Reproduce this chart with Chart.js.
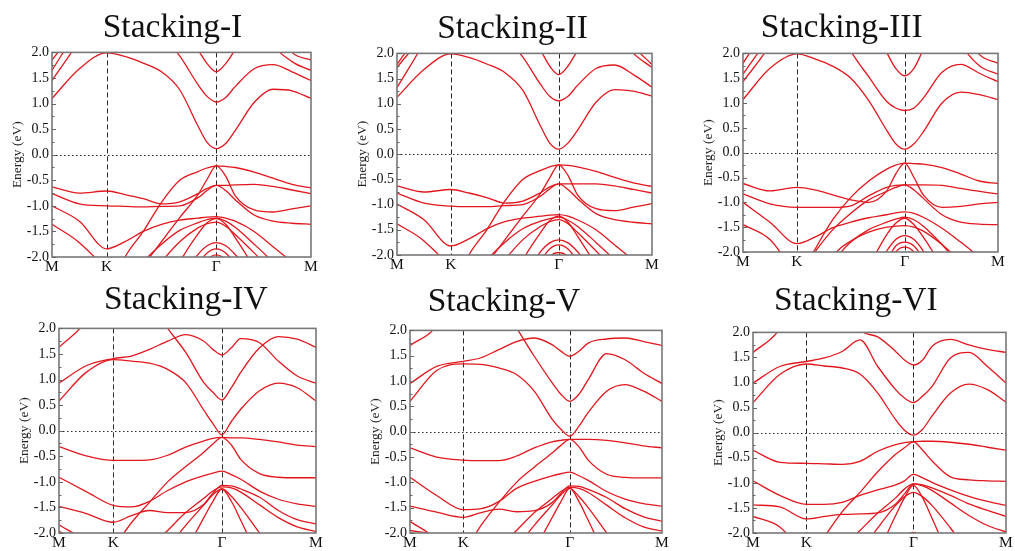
<!DOCTYPE html>
<html><head><meta charset="utf-8">
<script src="https://cdn.jsdelivr.net/npm/chart.js@4.4.1/dist/chart.umd.min.js"></script>
<style>
html,body{margin:0;padding:0;background:#fff;width:1015px;height:551px;overflow:hidden;position:relative;font-family:'Liberation Serif','Times New Roman',serif;}
.ttl{position:absolute;font-size:33.5px;line-height:1;white-space:nowrap;color:#111;transform:translateX(-50%);}
.box{position:absolute;}
</style></head><body>
<script>
// ---- data ----
const kPath = [0, 0.289, 0.577, 0.770, 0.962, 1.155, 1.347, 1.540, 1.636, 1.732, 1.832, 1.932, 2.132, 2.332, 2.532, 2.732];
const kTickPos = [0, 0.577, 1.732, 2.732];
const kTickLabels = ['M', 'K', 'Γ', 'M'];
const energyMin = -2, energyMax = 2, energyStep = 0.5;
const panelTitles = ['Stacking-I', 'Stacking-II', 'Stacking-III', 'Stacking-IV', 'Stacking-V', 'Stacking-VI'];

const bandsStackingI = [
  [1.10, 1.68, 1.99, 1.92, 1.79, 1.62, 1.27, 0.56, 0.24, 0.12, 0.22, 0.47, 1.02, 1.28, 1.25, 1.10],
  [2.6, 2.6, 2.6, 2.6, 2.6, 2.35, 1.93, 1.37, 1.14, 1.03, 1.12, 1.33, 1.68, 1.76, 1.62, 1.45],
  [2.6, 2.6, 2.6, 2.6, 2.6, 2.6, 2.5, 2.05, 1.78, 1.62, 1.78, 2.05, 2.6, 2.6, 2.6, 2.6],
  [1.45, 2.25, 3.3, 3.3, 3.3, 3.3, 3.3, 3.3, 3.3, 3.3, 3.3, 3.3, 3.3, 3.3, 3.3, 3.3],
  [1.65, 2.5, 3.3, 3.3, 3.3, 3.3, 3.3, 3.3, 3.3, 3.3, 3.3, 3.3, 3.3, 3.3, 3.3, 3.3],
  [1.85, 2.55, 3.3, 3.3, 3.3, 3.3, 3.3, 3.3, 3.3, 3.3, 3.3, 3.3, 3.3, 3.3, 3.3, 3.3],
  [3.3, 3.3, 3.3, 3.3, 3.3, 3.3, 3.3, 3.3, 3.3, 3.3, 3.3, 3.3, 3.3, 2.2, 1.82, 1.65],
  [3.3, 3.3, 3.3, 3.3, 3.3, 3.3, 3.3, 3.3, 3.3, 3.3, 3.3, 3.3, 3.3, 2.6, 2.0, 1.85],
  [-3, -3, -2.8, -2.0, -1.5, -0.93, -0.50, -0.33, -0.26, -0.22, -0.23, -0.25, -0.34, -0.46, -0.58, -0.65],
  [-3, -3, -3, -2.9, -2.2, -1.70, -1.23, -0.78, -0.48, -0.22, -0.42, -0.80, -1.08, -1.12, -1.06, -1.00],
  [-0.63, -0.75, -0.71, -0.78, -0.86, -0.96, -0.92, -0.76, -0.66, -0.60, -0.60, -0.59, -0.58, -0.62, -0.69, -0.76],
  [-0.76, -0.96, -1.00, -1.01, -1.02, -1.01, -1.00, -0.84, -0.70, -0.60, -0.70, -0.88, -1.18, -1.30, -1.34, -1.36],
  [-1.00, -1.30, -1.84, -1.70, -1.50, -1.36, -1.28, -1.24, -1.22, -1.21, -1.24, -1.30, -1.50, -1.80, -2.10, -2.40],
  [-3, -3, -3, -2.6, -2.1, -1.75, -1.48, -1.33, -1.27, -1.24, -1.30, -1.42, -1.75, -2.10, -2.50, -2.80],
  [-3, -3, -3, -3, -2.6, -2.1, -1.70, -1.43, -1.35, -1.32, -1.40, -1.56, -1.92, -2.30, -2.80, -3],
  [-3, -3, -3, -3, -3, -2.8, -2.1, -1.55, -1.33, -1.25, -1.36, -1.62, -2.20, -2.80, -3, -3],
  [-3, -3, -3, -3, -3, -3, -2.5, -1.95, -1.78, -1.72, -1.78, -1.95, -2.40, -3, -3, -3],
  [-3, -3, -3, -3, -3, -3, -2.8, -2.15, -1.92, -1.84, -1.92, -2.15, -2.70, -3, -3, -3],
  [-3, -3, -3, -3, -3, -3, -3, -2.30, -2.05, -1.96, -2.05, -2.30, -3, -3, -3, -3],
  [-1.36, -1.72, -2.3, -3, -3, -3, -3, -3, -3, -3, -3, -3, -3, -3, -3, -3]
];
const bandsStackingII = [
  [1.13, 1.68, 1.99, 1.92, 1.79, 1.62, 1.27, 0.55, 0.22, 0.10, 0.22, 0.47, 1.03, 1.28, 1.25, 1.15],
  [2.6, 2.6, 2.6, 2.6, 2.6, 2.35, 1.93, 1.38, 1.15, 1.06, 1.15, 1.36, 1.70, 1.77, 1.58, 1.33],
  [2.6, 2.6, 2.6, 2.6, 2.6, 2.6, 2.5, 2.05, 1.75, 1.58, 1.75, 2.05, 2.6, 2.6, 2.6, 2.6],
  [1.32, 2.22, 3.3, 3.3, 3.3, 3.3, 3.3, 3.3, 3.3, 3.3, 3.3, 3.3, 3.3, 3.3, 3.3, 3.3],
  [1.72, 2.4, 3.3, 3.3, 3.3, 3.3, 3.3, 3.3, 3.3, 3.3, 3.3, 3.3, 3.3, 3.3, 3.3, 3.3],
  [1.78, 2.55, 3.3, 3.3, 3.3, 3.3, 3.3, 3.3, 3.3, 3.3, 3.3, 3.3, 3.3, 3.3, 3.3, 3.3],
  [3.3, 3.3, 3.3, 3.3, 3.3, 3.3, 3.3, 3.3, 3.3, 3.3, 3.3, 3.3, 3.3, 2.45, 2.0, 1.72],
  [3.3, 3.3, 3.3, 3.3, 3.3, 3.3, 3.3, 3.3, 3.3, 3.3, 3.3, 3.3, 3.3, 2.7, 2.15, 1.78],
  [-3, -3, -2.8, -2.0, -1.5, -0.93, -0.50, -0.32, -0.25, -0.21, -0.22, -0.25, -0.34, -0.46, -0.57, -0.64],
  [-3, -3, -3, -2.9, -2.2, -1.70, -1.23, -0.77, -0.47, -0.21, -0.42, -0.80, -1.08, -1.12, -1.05, -0.98],
  [-0.63, -0.75, -0.70, -0.77, -0.86, -0.97, -0.93, -0.76, -0.65, -0.59, -0.59, -0.59, -0.59, -0.63, -0.70, -0.77],
  [-0.77, -0.97, -1.03, -1.04, -1.04, -1.02, -1.00, -0.83, -0.69, -0.59, -0.70, -0.88, -1.18, -1.30, -1.35, -1.38],
  [-0.99, -1.30, -1.82, -1.68, -1.48, -1.34, -1.27, -1.23, -1.21, -1.20, -1.23, -1.30, -1.50, -1.80, -2.10, -2.40],
  [-3, -3, -3, -2.6, -2.1, -1.75, -1.48, -1.33, -1.28, -1.25, -1.31, -1.43, -1.75, -2.10, -2.50, -2.80],
  [-3, -3, -3, -3, -2.6, -2.1, -1.70, -1.43, -1.34, -1.30, -1.38, -1.55, -1.92, -2.30, -2.80, -3],
  [-3, -3, -3, -3, -3, -2.8, -2.1, -1.55, -1.32, -1.23, -1.35, -1.62, -2.20, -2.80, -3, -3],
  [-3, -3, -3, -3, -3, -3, -2.5, -1.93, -1.76, -1.70, -1.76, -1.93, -2.40, -3, -3, -3],
  [-3, -3, -3, -3, -3, -3, -2.8, -2.12, -1.88, -1.80, -1.88, -2.12, -2.70, -3, -3, -3],
  [-3, -3, -3, -3, -3, -3, -3, -2.30, -2.03, -1.95, -2.03, -2.30, -3, -3, -3, -3],
  [-1.38, -1.72, -2.3, -3, -3, -3, -3, -3, -3, -3, -3, -3, -3, -3, -3, -3]
];
const bandsStackingIII = [
  [1.07, 1.70, 1.99, 1.89, 1.74, 1.50, 1.05, 0.45, 0.18, 0.07, 0.18, 0.42, 1.00, 1.22, 1.17, 1.07],
  [3, 3, 3, 3, 2.8, 2.05, 1.53, 1.03, 0.90, 0.85, 0.90, 1.10, 1.62, 1.78, 1.60, 1.43],
  [3, 3, 3, 3, 3, 3, 2.8, 2.02, 1.70, 1.55, 1.70, 2.08, 2.8, 3, 3, 3],
  [1.43, 2.18, 3.3, 3.3, 3.3, 3.3, 3.3, 3.3, 3.3, 3.3, 3.3, 3.3, 3.3, 3.3, 3.3, 3.3],
  [1.58, 2.37, 3.3, 3.3, 3.3, 3.3, 3.3, 3.3, 3.3, 3.3, 3.3, 3.3, 3.3, 3.3, 3.3, 3.3],
  [1.80, 2.65, 3.5, 3.5, 3.5, 3.5, 3.5, 3.5, 3.5, 3.5, 3.5, 3.5, 3.5, 3.5, 3.5, 3.5],
  [3, 3, 3, 3, 3, 3, 3, 3, 3, 3, 3, 3, 3, 2.2, 1.75, 1.58],
  [3, 3, 3, 3, 3, 3, 3, 3, 3, 3, 3, 3, 3, 2.6, 1.98, 1.80],
  [-3, -3, -2.6, -1.95, -1.35, -0.90, -0.57, -0.33, -0.25, -0.21, -0.22, -0.23, -0.30, -0.43, -0.57, -0.62],
  [-0.62, -0.77, -0.70, -0.75, -0.85, -0.95, -1.00, -0.77, -0.43, -0.21, -0.50, -0.85, -1.10, -1.08, -1.03, -1.00],
  [-0.83, -1.03, -1.10, -1.10, -1.10, -1.07, -0.87, -0.70, -0.66, -0.65, -0.65, -0.65, -0.66, -0.72, -0.78, -0.83],
  [-3, -3, -2.5, -2.0, -1.55, -1.22, -0.95, -0.78, -0.70, -0.65, -0.75, -0.92, -1.25, -1.40, -1.44, -1.45],
  [-1.00, -1.40, -1.83, -1.70, -1.51, -1.40, -1.31, -1.25, -1.21, -1.19, -1.22, -1.30, -1.52, -1.80, -2.10, -2.40],
  [-3, -3, -3, -2.7, -2.2, -1.8, -1.55, -1.40, -1.34, -1.30, -1.35, -1.48, -1.85, -2.3, -2.8, -3],
  [-3, -3, -3, -3, -2.1, -1.78, -1.60, -1.50, -1.48, -1.47, -1.50, -1.58, -1.85, -2.2, -2.6, -3],
  [-3, -3, -3, -3, -3, -3, -2.3, -1.65, -1.42, -1.32, -1.45, -1.70, -2.3, -3, -3, -3],
  [-3, -3, -3, -3, -3, -3, -2.6, -1.98, -1.75, -1.67, -1.75, -1.98, -2.6, -3, -3, -3],
  [-3, -3, -3, -3, -3, -3, -3, -2.2, -1.88, -1.80, -1.88, -2.15, -3, -3, -3, -3],
  [-3, -3, -3, -3, -3, -3, -3, -2.4, -2.0, -1.90, -2.0, -2.35, -3, -3, -3, -3],
  [-1.45, -1.75, -2.5, -3, -3, -3, -3, -3, -3, -3, -3, -3, -3, -3, -3, -3]
];
const bandsStackingIV = [
  [0.58, 1.14, 1.39, 1.36, 1.32, 1.20, 0.94, 0.40, 0.14, -0.08, 0.18, 0.42, 0.78, 0.93, 0.84, 0.58],
  [0.93, 1.27, 1.41, 1.46, 1.59, 1.75, 1.88, 1.75, 1.59, 1.48, 1.62, 1.80, 1.72, 1.36, 1.07, 0.93],
  [3, 3, 3, 3, 2.5, 2.0, 1.53, 0.94, 0.75, 0.60, 0.84, 1.14, 1.62, 1.84, 1.79, 1.63],
  [1.63, 2.15, 3.2, 3.2, 3.2, 3.2, 3.2, 3.2, 3.2, 3.2, 3.2, 3.2, 3.2, 3.2, 3.2, 3.2],
  [-0.31, -0.49, -0.58, -0.58, -0.57, -0.48, -0.32, -0.20, -0.15, -0.13, -0.14, -0.14, -0.17, -0.22, -0.28, -0.31],
  [-3, -3, -2.3, -1.80, -1.40, -1.00, -0.70, -0.42, -0.26, -0.13, -0.28, -0.56, -0.84, -0.91, -0.92, -0.92],
  [-0.91, -1.19, -1.46, -1.49, -1.38, -1.17, -1.00, -0.88, -0.83, -0.79, -0.86, -0.95, -1.18, -1.34, -1.43, -1.48],
  [-1.48, -1.62, -1.79, -1.66, -1.56, -1.60, -1.60, -1.44, -1.22, -1.07, -1.08, -1.14, -1.30, -1.56, -1.74, -1.82],
  [-3, -3, -3, -2.8, -2.3, -1.95, -1.60, -1.32, -1.18, -1.10, -1.12, -1.20, -1.45, -1.70, -1.88, -1.97],
  [-3, -3, -3, -3, -2.8, -2.3, -1.85, -1.45, -1.25, -1.14, -1.28, -1.50, -2.0, -2.5, -3, -3],
  [-3, -3, -3, -3, -3, -3, -2.35, -1.70, -1.38, -1.14, -1.38, -1.75, -2.5, -3, -3, -3],
  [-1.84, -2.2, -3, -3, -3, -3, -3, -3, -3, -3, -3, -3, -3, -3, -3, -3],
  [-1.96, -2.3, -3, -3, -3, -3, -3, -3, -3, -3, -3, -3, -3, -3, -3, -3]
];
const bandsStackingV = [
  [0.60, 1.21, 1.34, 1.33, 1.26, 1.13, 0.80, 0.25, 0.05, -0.09, 0.11, 0.38, 0.80, 0.93, 0.80, 0.60],
  [0.95, 1.29, 1.39, 1.46, 1.62, 1.78, 1.85, 1.72, 1.59, 1.49, 1.59, 1.75, 1.83, 1.85, 1.78, 1.70],
  [3, 3, 3, 3, 2.6, 2.05, 1.49, 0.97, 0.74, 0.60, 0.74, 1.03, 1.54, 1.42, 1.16, 0.95],
  [1.70, 2.1, 3.2, 3.2, 3.2, 3.2, 3.2, 3.2, 3.2, 3.2, 3.2, 3.2, 3.2, 3.2, 3.2, 3.2],
  [-0.32, -0.50, -0.56, -0.57, -0.57, -0.48, -0.32, -0.20, -0.17, -0.15, -0.15, -0.15, -0.17, -0.22, -0.28, -0.32],
  [-3, -3, -2.4, -1.85, -1.40, -1.00, -0.70, -0.42, -0.27, -0.15, -0.30, -0.56, -0.84, -0.90, -0.91, -0.91],
  [-0.90, -1.26, -1.54, -1.52, -1.38, -1.12, -0.98, -0.87, -0.83, -0.80, -0.87, -0.96, -1.18, -1.33, -1.42, -1.47],
  [-1.47, -1.59, -1.69, -1.60, -1.53, -1.58, -1.56, -1.40, -1.22, -1.07, -1.08, -1.14, -1.30, -1.52, -1.68, -1.77],
  [-3, -3, -3, -2.8, -2.3, -1.95, -1.60, -1.32, -1.18, -1.10, -1.12, -1.20, -1.45, -1.70, -1.88, -1.96],
  [-3, -3, -3, -3, -2.8, -2.3, -1.85, -1.45, -1.25, -1.12, -1.28, -1.50, -2.0, -2.5, -3, -3],
  [-3, -3, -3, -3, -3, -3, -2.35, -1.70, -1.38, -1.12, -1.38, -1.75, -2.5, -3, -3, -3],
  [-1.77, -2.15, -3, -3, -3, -3, -3, -3, -3, -3, -3, -3, -3, -3, -3, -3],
  [-1.95, -2.1, -3, -3, -3, -3, -3, -3, -3, -3, -3, -3, -3, -3, -3, -3]
];
const bandsStackingVI = [
  [0.60, 1.16, 1.37, 1.33, 1.29, 1.17, 0.79, 0.26, 0.05, -0.05, 0.07, 0.33, 0.79, 0.97, 0.86, 0.61],
  [0.99, 1.32, 1.42, 1.49, 1.62, 1.85, 1.32, 0.86, 0.69, 0.60, 0.73, 0.92, 1.49, 1.60, 1.32, 0.99],
  [3, 3, 3, 3, 2.7, 2.05, 1.91, 1.62, 1.45, 1.35, 1.45, 1.72, 1.86, 1.75, 1.66, 1.60],
  [1.60, 2.07, 3.2, 3.2, 3.2, 3.2, 3.2, 3.2, 3.2, 3.2, 3.2, 3.2, 3.2, 3.2, 3.2, 3.2],
  [-0.35, -0.59, -0.61, -0.62, -0.63, -0.57, -0.37, -0.24, -0.20, -0.18, -0.17, -0.17, -0.19, -0.23, -0.29, -0.35],
  [-3, -3, -2.6, -2.08, -1.58, -1.19, -0.78, -0.43, -0.30, -0.18, -0.35, -0.56, -0.88, -0.94, -0.96, -0.97],
  [-0.96, -1.25, -1.43, -1.43, -1.39, -1.25, -1.14, -1.04, -0.96, -0.83, -0.90, -0.99, -1.14, -1.27, -1.37, -1.45],
  [-1.44, -1.48, -1.72, -1.67, -1.63, -1.62, -1.60, -1.42, -1.22, -1.02, -1.04, -1.10, -1.25, -1.42, -1.55, -1.67],
  [-3, -3, -3, -2.8, -2.3, -1.95, -1.60, -1.30, -1.12, -1.02, -1.06, -1.15, -1.40, -1.65, -1.85, -1.98],
  [-3, -3, -3, -3, -3, -2.4, -1.90, -1.45, -1.28, -1.19, -1.28, -1.45, -1.90, -2.4, -3, -3],
  [-3, -3, -3, -3, -3, -3, -2.4, -1.65, -1.30, -1.05, -1.30, -1.70, -2.5, -3, -3, -3],
  [-3, -3, -3, -3, -3, -3, -3, -2.4, -2.1, -1.99, -2.1, -2.4, -3, -3, -3, -3],
  [-1.67, -1.88, -2.5, -3, -3, -3, -3, -3, -3, -3, -3, -3, -3, -3, -3, -3],
  [-1.98, -2.3, -3, -3, -3, -3, -3, -3, -3, -3, -3, -3, -3, -3, -3, -3]
];
const panelBands = [bandsStackingI, bandsStackingII, bandsStackingIII, bandsStackingIV, bandsStackingV, bandsStackingVI];

// ---- layout (plot rectangles: left, top, right, bottom) ----
const panelRects = [
  [52, 51, 311, 257], [397, 52, 652, 255], [743, 52, 998, 252],
  [59, 327, 316, 533], [410, 329, 662, 533], [753, 331, 1006, 533]
];
const titleAnchors = [[172.5, 37.5], [512.5, 38.3], [841.7, 37.5], [185.8, 309.3], [504, 310.7], [855.8, 310]];

const FONT = "'Liberation Serif','Times New Roman',serif";
const RED = '#e2171d';

const deco = {
  id: 'deco',
  beforeDatasetsDraw(chart) {
    const {ctx, chartArea: a, scales: {x, y}} = chart;
    ctx.save();
    ctx.strokeStyle = '#2a2a2a'; ctx.lineWidth = 1;
    ctx.setLineDash([5, 3]);
    [kTickPos[1], kTickPos[2]].forEach(v => {
      const px = Math.round(x.getPixelForValue(v)) + 0.5;
      ctx.beginPath(); ctx.moveTo(px, a.top); ctx.lineTo(px, a.bottom); ctx.stroke();
    });
    ctx.setLineDash([1.5, 2.5]);
    const py = Math.round(y.getPixelForValue(0)) + 0.5;
    ctx.beginPath(); ctx.moveTo(a.left, py); ctx.lineTo(a.right, py); ctx.stroke();
    ctx.restore();
  },
  afterDatasetsDraw(chart) {
    const {ctx, chartArea: a, scales: {y}} = chart;
    ctx.save();
    ctx.strokeStyle = '#777'; ctx.lineWidth = 1.6;
    ctx.strokeRect(a.left, a.top, a.right - a.left, a.bottom - a.top);
    ctx.lineWidth = 1; ctx.strokeStyle = '#666';
    for (let v = energyMin; v <= energyMax + 1e-9; v += energyStep / 2) {
      const py = Math.round(y.getPixelForValue(v)) + 0.5;
      const major = Math.abs(v / energyStep - Math.round(v / energyStep)) < 1e-6;
      ctx.beginPath(); ctx.moveTo(a.left, py); ctx.lineTo(a.left + (major ? 4 : 2.5), py); ctx.stroke();
    }
    ctx.fillStyle = '#222';
    ctx.font = '13.5px ' + FONT;
    ctx.textAlign = 'center'; ctx.textBaseline = 'middle';
    ctx.translate(a.left - 35, (a.top + a.bottom) / 2);
    ctx.rotate(-Math.PI / 2);
    ctx.fillText('Energy (eV)', 0, 0);
    ctx.restore();
  }
};

function makePanel(i) {
  const [L, T, R, B] = panelRects[i];
  const yW = 50, xH = 26, padT = 10, padR = 10;
  const div = document.createElement('div');
  div.className = 'box';
  div.style.left = (L - yW) + 'px';
  div.style.top = (T - padT) + 'px';
  div.style.width = (R - L + yW + padR) + 'px';
  div.style.height = (B - T + padT + xH) + 'px';
  const cv = document.createElement('canvas');
  div.appendChild(cv);
  document.body.appendChild(div);

  const t = document.createElement('div');
  t.className = 'ttl';
  t.textContent = panelTitles[i];
  t.style.left = titleAnchors[i][0] + 'px';
  t.style.top = (titleAnchors[i][1] - 28.06) + 'px';
  document.body.appendChild(t);

  const datasets = panelBands[i].map(b => ({
    data: b.map((e, j) => ({x: kPath[j], y: e})),
    showLine: true, borderColor: RED, borderWidth: 1.3, pointRadius: 0,
    cubicInterpolationMode: 'monotone', fill: false
  }));

  new Chart(cv, {
    type: 'scatter',
    data: {datasets},
    options: {
      responsive: true, maintainAspectRatio: false, animation: false, events: [],
      layout: {padding: {top: padT, right: padR, left: 0, bottom: 0}},
      plugins: {legend: {display: false}, tooltip: {enabled: false}},
      scales: {
        x: {
          type: 'linear', min: kTickPos[0], max: kTickPos[3],
          afterFit: s => { s.height = xH; },
          afterBuildTicks: s => { s.ticks = kTickPos.map(v => ({value: v})); },
          grid: {display: false, drawTicks: false}, border: {display: false},
          ticks: {autoSkip: false, maxRotation: 0, minRotation: 0, padding: 1,
                  font: {family: FONT, size: 15.5}, color: '#111',
                  callback: (v, idx) => kTickLabels[idx]}
        },
        y: {
          min: energyMin, max: energyMax,
          afterFit: s => { s.width = yW; },
          grid: {display: false, drawTicks: false}, border: {display: false},
          ticks: {stepSize: energyStep, padding: 3, font: {family: FONT, size: 14}, color: '#111',
                  callback: v => Number(v).toFixed(1)}
        }
      }
    },
    plugins: [deco]
  });
}
for (let i = 0; i < 6; i++) makePanel(i);
</script>
</body></html>
